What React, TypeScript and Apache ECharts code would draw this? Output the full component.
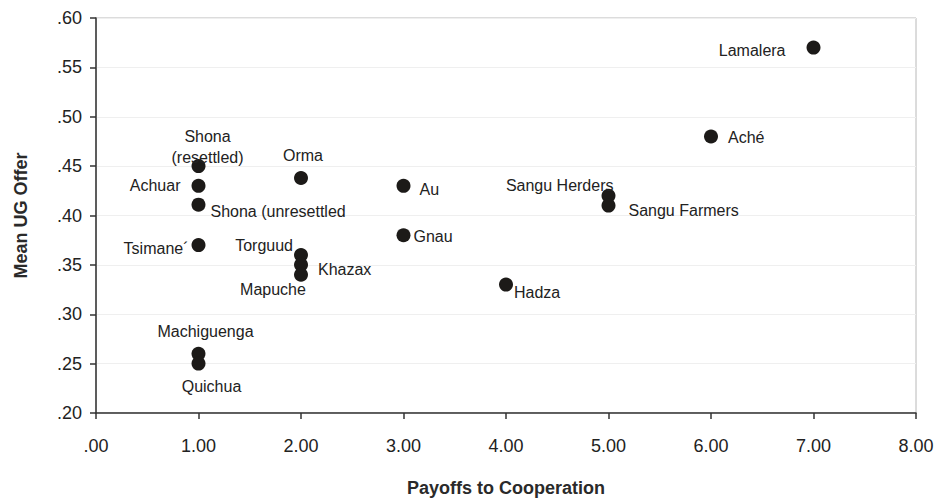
import React, { useEffect, useRef } from "react";
import * as echarts from "echarts";

const societies = [
  "Shona\n(resettled)", "Achuar", "Shona (unresettled", "Tsimane´", "Orma", "Torguud", "Khazax",
  "Mapuche", "Machiguenga", "Quichua", "Au", "Gnau", "Hadza", "Sangu Herders", "Sangu Farmers",
  "Aché", "Lamalera",
];
const payoffs = [1, 1, 1, 1, 2, 2, 2, 2, 1, 1, 3, 3, 4, 5, 5, 6, 7];
const offers = [0.45, 0.43, 0.411, 0.37, 0.438, 0.36, 0.35, 0.34, 0.26, 0.25, 0.43, 0.38, 0.33, 0.42, 0.41, 0.48, 0.57];
const xTicks = [".00", "1.00", "2.00", "3.00", "4.00", "5.00", "6.00", "7.00", "8.00"];
const yTicks = [".20", ".25", ".30", ".35", ".40", ".45", ".50", ".55", ".60"];

const labelPlacement: Record<string, { position: string; offset: number[] }> = {
  "Shona\n(resettled)": { position: "top", offset: [9, 14] },
  Achuar: { position: "left", offset: [-6, 0] },
  "Shona (unresettled": { position: "right", offset: [0, 7] },
  "Tsimane´": { position: "left", offset: [2, 3] },
  Orma: { position: "top", offset: [2, 0] },
  Torguud: { position: "left", offset: [4, -10] },
  Khazax: { position: "right", offset: [5, 5] },
  Mapuche: { position: "bottom", offset: [-28, -8] },
  Machiguenga: { position: "top", offset: [7, 0] },
  Quichua: { position: "bottom", offset: [13, 0] },
  Au: { position: "right", offset: [4, 4] },
  Gnau: { position: "right", offset: [-2, 1] },
  Hadza: { position: "right", offset: [-4, 8] },
  "Sangu Herders": { position: "left", offset: [17, -10] },
  "Sangu Farmers": { position: "right", offset: [8, 5] },
  "Aché": { position: "right", offset: [5, 1] },
  Lamalera: { position: "left", offset: [-16, 3] },
};

export default function App() {
  const ref = useRef<HTMLDivElement>(null);
  useEffect(() => {
    if (!ref.current) return;
    const chart = echarts.init(ref.current, null, { renderer: "svg" });
    const data = societies.map((name, i) => ({
      name,
      value: [payoffs[i], offers[i]],
      label: { show: true, formatter: name, ...labelPlacement[name] },
    }));
    chart.setOption({
      animation: false,
      backgroundColor: "#ffffff",
      textStyle: { fontFamily: "Liberation Sans, Arial, sans-serif" },
      grid: { left: 96, right: 24, top: 18, bottom: 86, show: true, borderColor: "#b8b8b8", borderWidth: 1 },
      xAxis: {
        type: "value",
        min: 0,
        max: 8,
        interval: 1,
        name: "Payoffs to Cooperation",
        nameLocation: "middle",
        nameGap: 66,
        nameTextStyle: { fontSize: 18, fontWeight: "bold", color: "#2a2a2a" },
        axisLine: { show: true, onZero: false, lineStyle: { color: "#333", width: 1.5 } },
        axisTick: { show: true, length: 6, lineStyle: { color: "#333", width: 1.5 } },
        axisLabel: {
          fontSize: 18,
          color: "#222",
          margin: 24,
          formatter: (v: number) => xTicks[Math.round(v)],
        },
        splitLine: { show: false },
      },
      yAxis: {
        type: "value",
        min: 0.2,
        max: 0.6,
        interval: 0.05,
        name: "Mean UG Offer",
        nameLocation: "middle",
        nameGap: 66,
        nameTextStyle: { fontSize: 18, fontWeight: "bold", color: "#2a2a2a" },
        axisLine: { show: true, onZero: false, lineStyle: { color: "#333", width: 1.5 } },
        axisTick: { show: true, length: 6, lineStyle: { color: "#333", width: 1.5 } },
        axisLabel: {
          fontSize: 18,
          color: "#222",
          margin: 14,
          formatter: (v: number) => yTicks[Math.round((v - 0.2) / 0.05)],
        },
        splitLine: { show: true, lineStyle: { color: "#efefef", width: 1 } },
      },
      series: [
        {
          type: "scatter",
          symbol: "circle",
          symbolSize: 14,
          itemStyle: { color: "#1c1a18", opacity: 1 },
          label: { fontSize: 16, color: "#222", lineHeight: 21 },
          data,
        },
      ],
    });
    return () => chart.dispose();
  }, []);
  return <div ref={ref} style={{ position: "fixed", left: 0, top: 0, width: 940, height: 502 }} />;
}
